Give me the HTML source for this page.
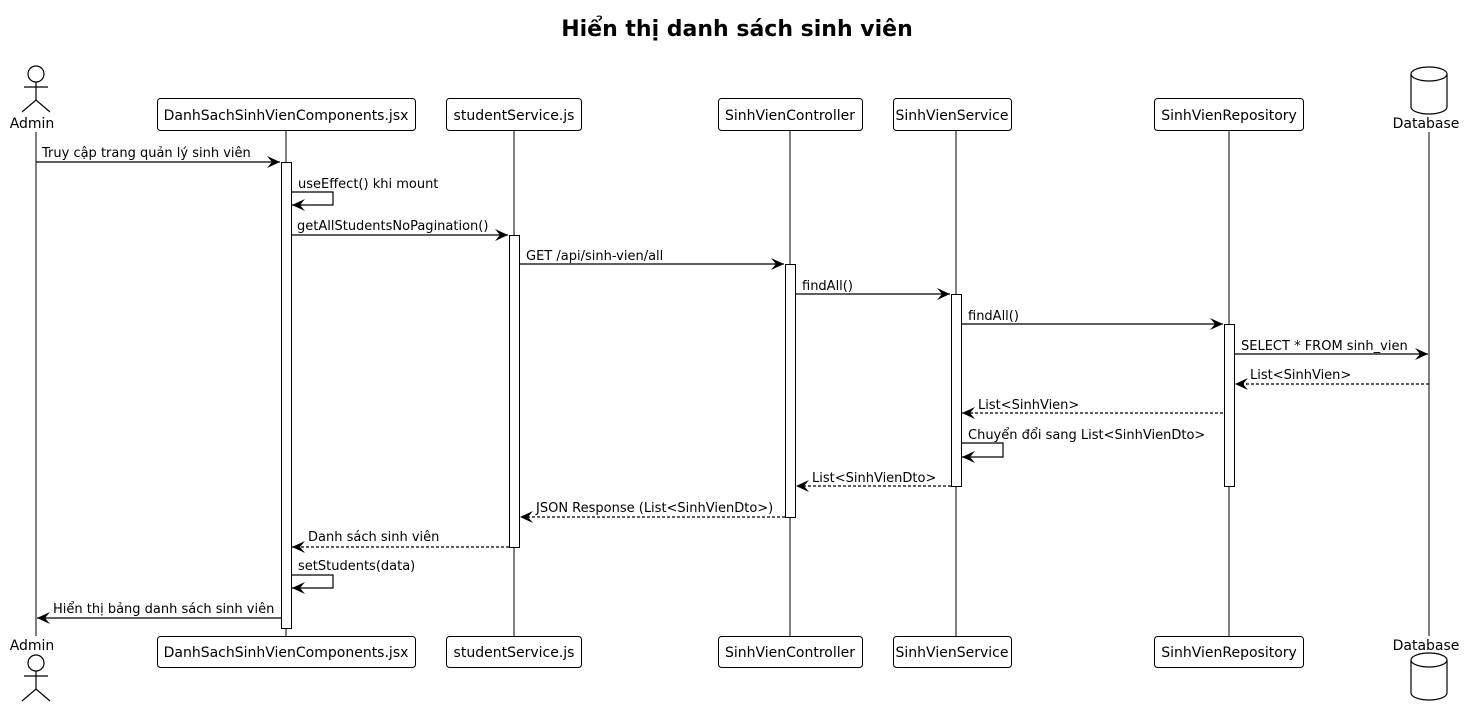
<!DOCTYPE html>
<html><head><meta charset="utf-8"><style>body{margin:0;background:#fff}svg{display:block}</style></head><body>
<svg width="1464" height="717" xmlns="http://www.w3.org/2000/svg" font-family="DejaVu Sans, Liberation Sans, sans-serif">
<defs>
<marker id="a" markerWidth="14" markerHeight="12" refX="13" refY="6" orient="auto" markerUnits="userSpaceOnUse"><path d="M0,0 L13,6 L0,12 L5,6 Z" fill="#000"/></marker>
</defs>
<text x="737" y="36" text-anchor="middle" font-size="22" font-weight="bold">Hiển thị danh sách sinh viên</text>
<g stroke="#000" stroke-width="1" fill="none">
<line x1="36" y1="132" x2="36" y2="636"/>
<line x1="286" y1="130" x2="286" y2="636"/>
<line x1="514" y1="130" x2="514" y2="636"/>
<line x1="790" y1="130" x2="790" y2="636"/>
<line x1="956" y1="130" x2="956" y2="636"/>
<line x1="1229" y1="130" x2="1229" y2="636"/>
<line x1="1429" y1="132" x2="1429" y2="636"/>
</g>
<g stroke="#000" fill="#fff">
<rect x="157.5" y="98.5" width="258" height="32" rx="3"/>
<rect x="446.5" y="98.5" width="135" height="32" rx="3"/>
<rect x="718.5" y="98.5" width="144" height="32" rx="3"/>
<rect x="893.5" y="98.5" width="118" height="32" rx="3"/>
<rect x="1154.5" y="98.5" width="149" height="32" rx="3"/>
<rect x="157.5" y="636.5" width="258" height="31" rx="3"/>
<rect x="446.5" y="636.5" width="135" height="31" rx="3"/>
<rect x="718.5" y="636.5" width="144" height="31" rx="3"/>
<rect x="893.5" y="636.5" width="118" height="31" rx="3"/>
<rect x="1154.5" y="636.5" width="149" height="31" rx="3"/>
<rect x="281.5" y="162.5" width="10" height="466"/>
<rect x="509.5" y="235.5" width="10" height="312"/>
<rect x="785.5" y="264.5" width="10" height="253"/>
<rect x="951.5" y="294.5" width="10" height="192"/>
<rect x="1224.5" y="324.5" width="10" height="162"/>
</g>
<g font-size="14" text-anchor="middle">
<text x="286" y="120">DanhSachSinhVienComponents.jsx</text>
<text x="514" y="120">studentService.js</text>
<text x="790" y="120">SinhVienController</text>
<text x="952" y="120">SinhVienService</text>
<text x="1229" y="120">SinhVienRepository</text>
<text x="286" y="657">DanhSachSinhVienComponents.jsx</text>
<text x="514" y="657">studentService.js</text>
<text x="790" y="657">SinhVienController</text>
<text x="952" y="657">SinhVienService</text>
<text x="1229" y="657">SinhVienRepository</text>
<text x="32" y="128">Admin</text>
<text x="1426" y="128">Database</text>
<text x="32" y="650">Admin</text>
<text x="1426" y="650">Database</text>
</g>
<g stroke="#000" fill="none" stroke-width="1.2">
<circle cx="36" cy="74" r="8"/><line x1="36" y1="82" x2="36" y2="100"/><line x1="24" y1="87" x2="48" y2="87"/><path d="M22,112 L36,100 L50,112"/>
<circle cx="36" cy="663" r="8"/><line x1="36" y1="671" x2="36" y2="689"/><line x1="24" y1="676" x2="48" y2="676"/><path d="M22,701 L36,689 L50,701"/>
<path d="M1411,74 A18,7 0 0 1 1447,74 L1447,107 A18,7 0 0 1 1411,107 Z" fill="#fff"/><path d="M1411,74 A18,7 0 0 0 1447,74"/>
<path d="M1411,660 A18,7 0 0 1 1447,660 L1447,693 A18,7 0 0 1 1411,693 Z" fill="#fff"/><path d="M1411,660 A18,7 0 0 0 1447,660"/>
</g>
<g stroke="#000" fill="none" stroke-width="1.2">
<line x1="36" y1="162" x2="280" y2="162" marker-end="url(#a)"/>
<path d="M291,192 H333 V205 H292" marker-end="url(#a)"/>
<line x1="291" y1="235" x2="508" y2="235" marker-end="url(#a)"/>
<line x1="519" y1="264" x2="784" y2="264" marker-end="url(#a)"/>
<line x1="795" y1="294" x2="950" y2="294" marker-end="url(#a)"/>
<line x1="961" y1="324" x2="1223" y2="324" marker-end="url(#a)"/>
<line x1="1234" y1="354" x2="1428" y2="354" marker-end="url(#a)"/>
<line x1="1429" y1="384" x2="1235" y2="384" stroke-dasharray="3,2" marker-end="url(#a)"/>
<line x1="1223" y1="413" x2="962" y2="413" stroke-dasharray="3,2" marker-end="url(#a)"/>
<path d="M961,443 H1003 V457 H962" marker-end="url(#a)"/>
<line x1="951" y1="486" x2="796" y2="486" stroke-dasharray="3,2" marker-end="url(#a)"/>
<line x1="785" y1="517" x2="520" y2="517" stroke-dasharray="3,2" marker-end="url(#a)"/>
<line x1="509" y1="547" x2="292" y2="547" stroke-dasharray="3,2" marker-end="url(#a)"/>
<path d="M291,575 H333 V588 H292" marker-end="url(#a)"/>
<line x1="281" y1="618" x2="37" y2="618" marker-end="url(#a)"/>
</g>
<g font-size="13">
<text x="42" y="157">Truy cập trang quản lý sinh viên</text>
<text x="298" y="188">useEffect() khi mount</text>
<text x="297" y="230">getAllStudentsNoPagination()</text>
<text x="526" y="260">GET /api/sinh-vien/all</text>
<text x="802" y="290">findAll()</text>
<text x="968" y="320">findAll()</text>
<text x="1241" y="350">SELECT * FROM sinh_vien</text>
<text x="1250" y="379">List&lt;SinhVien&gt;</text>
<text x="978" y="409">List&lt;SinhVien&gt;</text>
<text x="968" y="439">Chuyển đổi sang List&lt;SinhVienDto&gt;</text>
<text x="812" y="482">List&lt;SinhVienDto&gt;</text>
<text x="536" y="512">JSON Response (List&lt;SinhVienDto&gt;)</text>
<text x="308" y="541">Danh sách sinh viên</text>
<text x="298" y="570">setStudents(data)</text>
<text x="53" y="613">Hiển thị bảng danh sách sinh viên</text>
</g>
</svg>
</body></html>
